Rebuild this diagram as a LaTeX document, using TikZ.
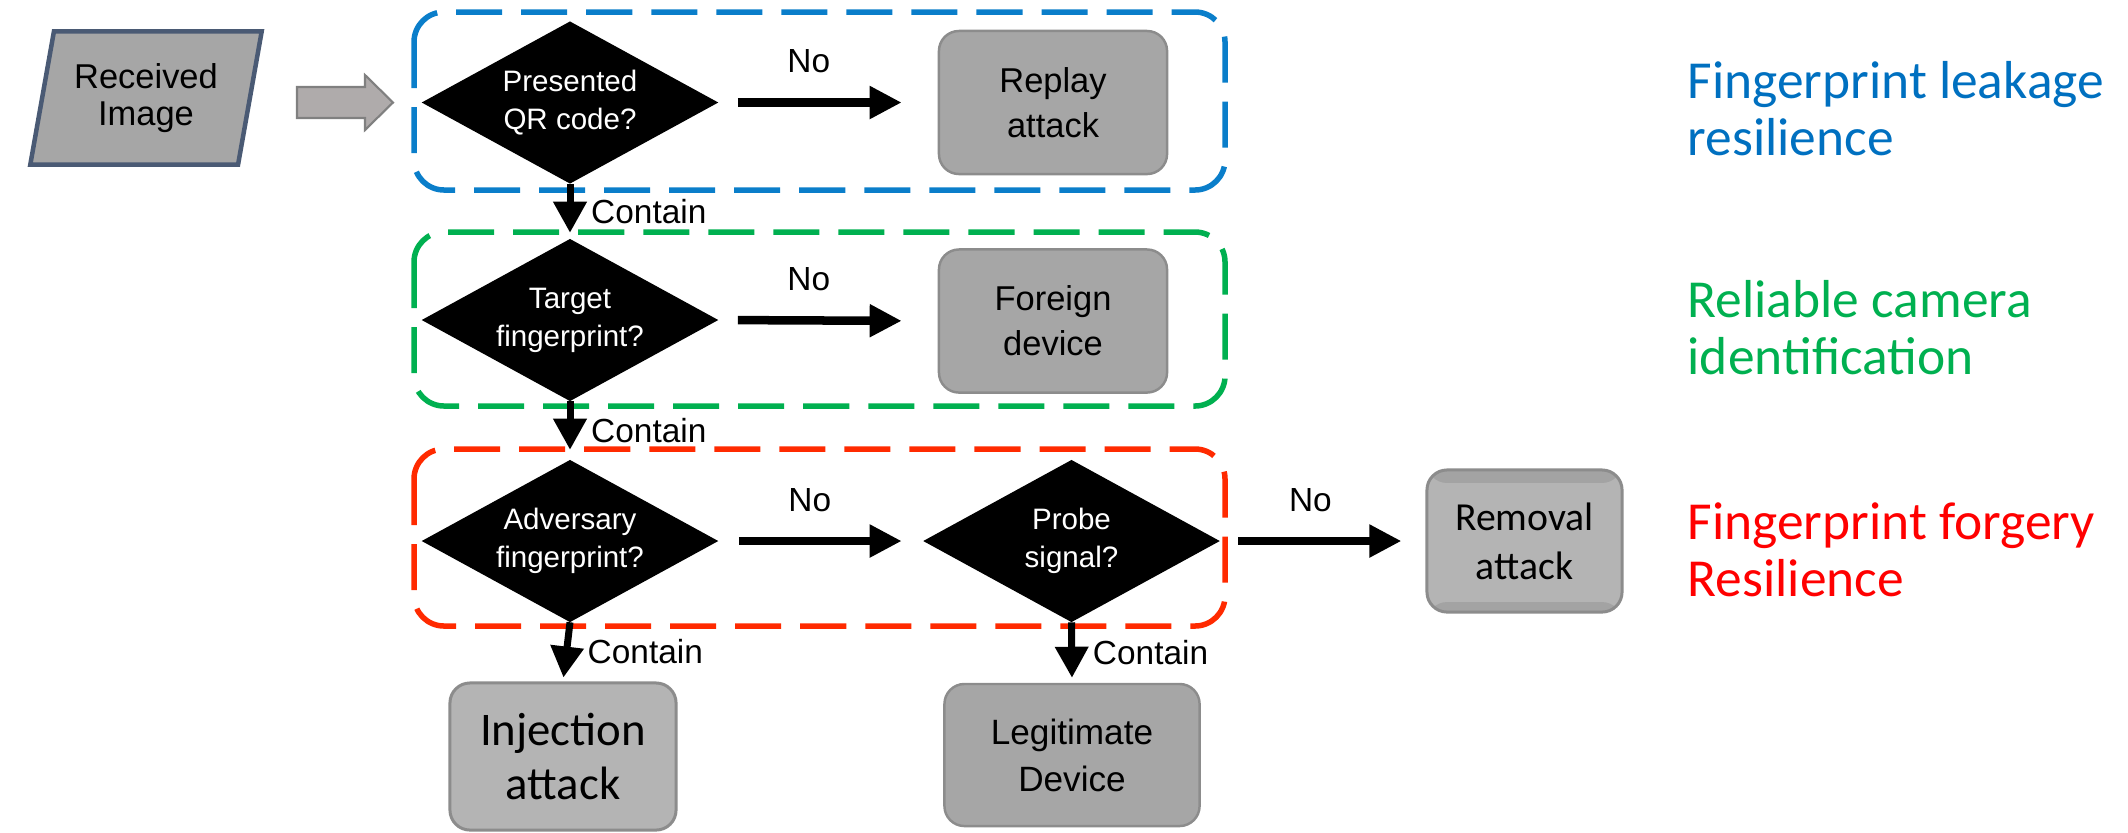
\documentclass[tikz,border=0pt]{standalone}
\usepackage{fontspec}
\setmainfont{Liberation Sans}
\newfontfamily\flowfont{Liberation Sans}
\newfontfamily\notefont{Carlito}
\usetikzlibrary{shapes.geometric,arrows.meta}

\definecolor{leakblue}{HTML}{0070C0}
\definecolor{leakbox}{HTML}{0A7ECA}
\definecolor{camgreen}{HTML}{00B050}
\definecolor{forgered}{HTML}{FF0000}
\definecolor{forgebox}{HTML}{FF2A00}
\definecolor{boxgray}{HTML}{A6A6A6}
\definecolor{boxedge}{HTML}{8C8C8C}
\definecolor{lightbox}{HTML}{B4B4B4}
\definecolor{bandgray}{HTML}{A3A3A3}
\definecolor{slate}{HTML}{4A5A74}
\definecolor{blockgray}{HTML}{AFABAB}

\begin{document}
\begin{tikzpicture}[x=0.01cm,y=-0.01cm,
  decision/.style={diamond, aspect=1.83, fill=black, draw=black, text=white,
    inner sep=0pt, minimum width=2.94cm, minimum height=1.61cm, align=center,
    font=\flowfont\fontsize{8.4}{10.8}\selectfont},
  result/.style={rectangle, rounded corners=0.2cm, fill=boxgray, draw=boxedge,
    line width=0.7pt, align=center, font=\flowfont\fontsize{9.8}{12.8}\selectfont},
  heavy/.style={fill=lightbox, draw=boxedge, line width=0.03cm},
  banded/.style={heavy,
    path picture={
      \fill[bandgray] (path picture bounding box.north west) rectangle
        ([yshift=-0.13cm]path picture bounding box.north east);
      \fill[bandgray] (path picture bounding box.south west) rectangle
        ([yshift=0.1cm]path picture bounding box.south east);}},
  group/.style={rounded corners=0.3cm, line width=0.055cm,
    dash pattern=on 0.46cm off 0.19cm},
  noarrow/.style={line width=0.085cm, -{Triangle[length=0.32cm,width=0.31cm]}},
  yesarrow/.style={line width=0.07cm, -{Triangle[length=0.31cm,width=0.32cm]}},
  flowlabel/.style={font=\flowfont\fontsize{9.5}{11}\selectfont},
  goal/.style={anchor=base west, align=left, inner sep=0pt,
    font=\notefont\fontsize{15.2}{16.2}\selectfont}
]
\useasboundingbox (0,0) rectangle (2128,832);

% dashed groups
\draw[group, leakbox]  (414,12)  rectangle (1225,190);
\draw[group, camgreen] (414,232) rectangle (1225,406);
\draw[group, forgebox] (414,449) rectangle (1225,626);

% input
\node[trapezium, trapezium left angle=77, trapezium right angle=103,
  trapezium stretches=true, minimum width=2.32cm, minimum height=1.33cm,
  fill=boxgray, draw=slate, line width=0.045cm, align=center,
  font=\flowfont\fontsize{9.8}{10.6}\selectfont] (recv) at (146,98) {Received\\Image};
\filldraw[fill=blockgray, draw=gray, line width=0.6pt]
  (297,87) -- (365,87) -- (365,75) -- (393,102.5) -- (365,130) -- (365,118) -- (297,118) -- cycle;

% decisions
\node[decision] (d1) at (570,102.5) {Presented\\QR code?};
\node[decision] (d2) at (570,320) {Target\\fingerprint?};
\node[decision] (d3) at (570,541) {Adversary\\fingerprint?};
\node[decision] (d4) at (1071.5,541) {Probe\\signal?};

% outcomes
\node[result, minimum width=2.28cm, minimum height=1.43cm] (replay)  at (1053,102.5) {Replay\\attack};
\node[result, minimum width=2.28cm, minimum height=1.43cm] (foreign) at (1053,321) {Foreign\\device};
\node[result, banded, minimum width=1.95cm, minimum height=1.42cm,
  font=\notefont\fontsize{11.3}{14}\selectfont] (removal) at (1524.5,541) {Removal\\attack};
\node[result, heavy, minimum width=2.26cm, minimum height=1.47cm,
  font=\notefont\fontsize{13.3}{15.6}\selectfont] (inject) at (563,756.5) {Injection\\attack};
\node[result, minimum width=2.55cm, minimum height=1.42cm,
  font=\flowfont\fontsize{10}{13.4}\selectfont] (legit) at (1072,755) {Legitimate\\Device};

% "No" branches
\draw[noarrow, shorten <=0.2cm, shorten >=0.36cm] (d1.east) --
  node[flowlabel, midway, yshift=0.41cm, xshift=-0.19cm] {No} (replay.west);
\draw[noarrow, shorten <=0.2cm, shorten >=0.36cm] (d2.east) --
  node[flowlabel, midway, yshift=0.41cm, xshift=-0.19cm] {No} (foreign.west);
\draw[noarrow, shorten <=0.21cm, shorten >=0.22cm] (d3.east) --
  node[flowlabel, midway, yshift=0.41cm, xshift=-0.11cm] {No} (d4.west);
\draw[noarrow, shorten <=0.19cm, shorten >=0.24cm] (d4.east) --
  node[flowlabel, midway, yshift=0.41cm, xshift=-0.12cm] {No} (removal.west);

% "Contain" branches
\draw[yesarrow, shorten >=0.06cm] (d1.south) --
  node[flowlabel, right, xshift=0.06cm] {Contain} (d2.north);
\draw[yesarrow, shorten >=0.1cm] (d2.south) --
  node[flowlabel, right, xshift=0.06cm] {Contain} (d3.north);
\draw[yesarrow, shorten >=0.04cm] (d3.south) --
  node[flowlabel, right, xshift=0.06cm] {Contain} (inject.north);
\draw[yesarrow, shorten >=0.05cm] (d4.south) --
  node[flowlabel, right, xshift=0.06cm] {Contain} (legit.north);

% goals (anchored on the baseline of the last line)
\node[goal, text=leakblue]  (g1) at (1687,155) {Fingerprint leakage\\resilience};
\node[goal, text=camgreen]  (g2) at (1687,374) {Reliable camera\\identification};
\node[goal, text=forgered]  (g3) at (1687,596) {Fingerprint forgery\\Resilience};
\end{tikzpicture}
\end{document}
